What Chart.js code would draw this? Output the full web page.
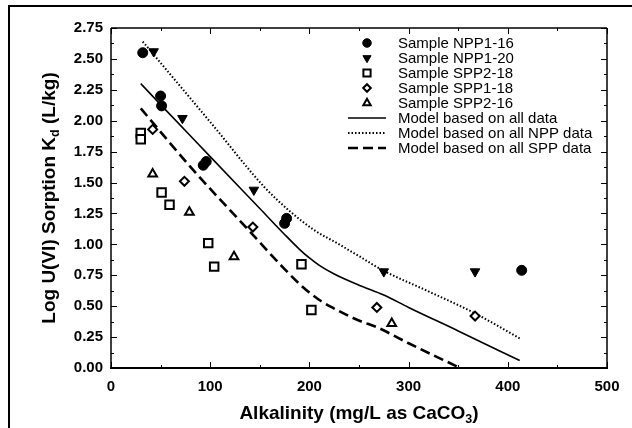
<!DOCTYPE html>
<html>
<head>
<meta charset="utf-8">
<script src="https://cdn.jsdelivr.net/npm/chart.js@4.4.0/dist/chart.umd.min.js"></script>
<style>
  html, body { margin: 0; padding: 0; background: #fff; }
  #wrap { width: 632px; height: 428px; }
</style>
</head>
<body>
<div id="wrap"><canvas id="kdChart" width="632" height="428"></canvas></div>
<script>
// axis ticks
const xTicks = [0, 100, 200, 300, 400, 500];
const yTicks = [0, 0.25, 0.5, 0.75, 1, 1.25, 1.5, 1.75, 2, 2.25, 2.5, 2.75];

// measured samples (alkalinity, log Kd)
const npp116X = [32, 50, 51, 93, 96, 175, 177, 414];
const npp116Y = [2.55, 2.20, 2.12, 1.64, 1.67, 1.17, 1.21, 0.79];
const npp120X = [43, 72, 144, 275, 367];
const npp120Y = [2.56, 2.02, 1.44, 0.78, 0.78];
const spp218X = [30, 30, 51, 59, 98, 104, 192, 202];
const spp218Y = [1.90, 1.85, 1.42, 1.32, 1.01, 0.82, 0.84, 0.47];
const spp118X = [42, 74, 143, 268, 367];
const spp118Y = [1.93, 1.51, 1.14, 0.49, 0.42];
const spp216X = [42, 79, 124, 283];
const spp216Y = [1.57, 1.26, 0.90, 0.36];

// model curves
const modelAllX = [30, 50, 100, 150, 175, 190, 200, 210, 225, 250, 275, 300, 350, 412];
const modelAllY = [2.30, 2.13, 1.71, 1.29, 1.08, 0.96, 0.89, 0.83, 0.76, 0.67, 0.59, 0.49, 0.30, 0.06];
const modelNppX = [32, 100, 155, 180, 204, 230, 251, 274, 320, 365, 412];
const modelNppY = [2.64, 1.99, 1.46, 1.27, 1.12, 1.00, 0.90, 0.79, 0.62, 0.45, 0.24];
const modelSppX = [30, 83, 137, 175, 190, 200, 212, 224, 240, 251, 268, 300, 352];
const modelSppY = [2.10, 1.60, 1.13, 0.80, 0.68, 0.61, 0.54, 0.485, 0.42, 0.38, 0.33, 0.20, 0.00];

function pts(xs, ys) {
  return xs.map((x, i) => ({ x: x, y: ys[i] }));
}

const FONT = "'Liberation Sans', Arial, sans-serif";

const datasets = [
  { label: 'Sample NPP1-16', data: pts(npp116X, npp116Y), pointStyle: 'circle', pointRadius: 5,
    backgroundColor: '#000', borderColor: '#000', borderWidth: 1 },
  { label: 'Sample NPP1-20', data: pts(npp120X, npp120Y), pointStyle: 'triangle', pointRotation: 180, pointRadius: 5.5,
    backgroundColor: '#000', borderColor: '#000', borderWidth: 1 },
  { label: 'Sample SPP2-18', data: pts(spp218X, spp218Y), pointStyle: 'rect', pointRadius: 6,
    backgroundColor: '#fff', borderColor: '#000', borderWidth: 2 },
  { label: 'Sample SPP1-18', data: pts(spp118X, spp118Y), pointStyle: 'rectRot', pointRadius: 4.5,
    backgroundColor: '#fff', borderColor: '#000', borderWidth: 2 },
  { label: 'Sample SPP2-16', data: pts(spp216X, spp216Y), pointStyle: 'triangle', pointRadius: 5,
    backgroundColor: '#fff', borderColor: '#000', borderWidth: 2 },
  { label: 'Model based on all data', data: pts(modelAllX, modelAllY), showLine: true, pointRadius: 0,
    borderColor: '#000', borderWidth: 1.6, cubicInterpolationMode: 'monotone', fill: false },
  { label: 'Model based on all NPP data', data: pts(modelNppX, modelNppY), showLine: true, pointRadius: 0,
    borderColor: '#000', borderWidth: 2, borderDash: [1.5, 2], cubicInterpolationMode: 'monotone', fill: false },
  { label: 'Model based on all SPP data', data: pts(modelSppX, modelSppY), showLine: true, pointRadius: 0,
    borderColor: '#000', borderWidth: 2.6, borderDash: [10, 5], cubicInterpolationMode: 'monotone', fill: false }
];

// frame, inward ticks, titles and legend
const decor = {
  id: 'decor',
  beforeDraw(chart) {
    const c = chart.ctx;
    c.save();
    c.fillStyle = '#fff';
    c.fillRect(0, 0, chart.width, chart.height);
    c.strokeStyle = '#000';
    c.lineWidth = 2;
    c.beginPath();
    c.moveTo(9, 428);
    c.lineTo(9, 6);
    c.lineTo(632, 6);
    c.stroke();
    c.restore();
  },
  afterDraw(chart) {
    const c = chart.ctx;
    const a = chart.chartArea;
    const xs = chart.scales.x, ys = chart.scales.y;
    c.save();
    c.strokeStyle = '#000';
    // axes box
    c.lineWidth = 1.5;
    c.beginPath();
    c.moveTo(a.left, a.top); c.lineTo(a.right, a.top);
    c.moveTo(a.right, a.top); c.lineTo(a.right, a.bottom);
    c.moveTo(a.left, a.top); c.lineTo(a.left, a.bottom);
    c.stroke();
    c.lineWidth = 2.2;
    c.beginPath();
    c.moveTo(a.left - 1, a.bottom); c.lineTo(a.right + 1, a.bottom);
    c.stroke();
    // ticks
    c.lineWidth = 1;
    c.beginPath();
    for (let v = 0; v <= 500; v += 50) {
      const px = Math.round(xs.getPixelForValue(v)) + 0.5;
      const len = v % 100 === 0 ? 6 : 3;
      c.moveTo(px, a.bottom); c.lineTo(px, a.bottom - len);
      c.moveTo(px, a.top); c.lineTo(px, a.top + len);
    }
    for (let k = 0; k <= 22; k++) {
      const v = k * 0.125;
      const py = Math.round(ys.getPixelForValue(v)) + 0.5;
      const len = k % 2 === 0 ? 6 : 3;
      c.moveTo(a.left, py); c.lineTo(a.left + len, py);
      c.moveTo(a.right, py); c.lineTo(a.right - len, py);
    }
    c.stroke();

    // x title with subscript
    c.fillStyle = '#000';
    c.textBaseline = 'alphabetic';
    const big = 'bold 19px ' + FONT, sub = 'bold 12.5px ' + FONT;
    c.font = big;
    const t1 = 'Alkalinity (mg/L as CaCO', t2 = '3', t3 = ')';
    const w1 = c.measureText(t1).width, w3 = c.measureText(t3).width;
    c.font = sub;
    const w2 = c.measureText(t2).width;
    let sx = (a.left + a.right) / 2 - (w1 + w2 + w3) / 2;
    const by = 419;
    c.font = big; c.fillText(t1, sx, by);
    c.font = sub; c.fillText(t2, sx + w1, by + 4);
    c.font = big; c.fillText(t3, sx + w1 + w2, by);

    // y title with subscript
    c.save();
    c.translate(55, (a.top + a.bottom) / 2);
    c.rotate(-Math.PI / 2);
    const u1 = 'Log U(VI) Sorption K', u2 = 'd', u3 = ' (L/kg)';
    c.font = big;
    const v1 = c.measureText(u1).width, v3 = c.measureText(u3).width;
    c.font = sub;
    const v2 = c.measureText(u2).width;
    let ty = -(v1 + v2 + v3) / 2;
    c.font = big; c.fillText(u1, ty, 0);
    c.font = sub; c.fillText(u2, ty + v1, 4);
    c.font = big; c.fillText(u3, ty + v1 + v2, 0);
    c.restore();

    // legend
    const lx = 367, tx = 398;
    let ly = 43;
    const step = 15;
    c.font = '15px ' + FONT;
    c.textBaseline = 'middle';
    chart.data.datasets.forEach((ds) => {
      c.save();
      if (ds.showLine) {
        c.lineWidth = ds.borderWidth;
        c.setLineDash(ds.borderDash || []);
        c.beginPath();
        c.moveTo(348, ly); c.lineTo(386, ly);
        c.stroke();
      } else {
        c.fillStyle = ds.backgroundColor;
        c.strokeStyle = ds.borderColor;
        c.lineWidth = ds.borderWidth;
        Chart.helpers.drawPoint(c, {
          pointStyle: ds.pointStyle,
          radius: ds.pointRadius * 0.85,
          rotation: ds.pointRotation || 0,
          borderWidth: ds.borderWidth
        }, lx, ly);
      }
      c.restore();
      c.fillStyle = '#000';
      c.fillText(ds.label, tx, ly + 1);
      ly += step;
    });
    c.restore();
  }
};

const config = {
  type: 'scatter',
  data: { datasets },
  options: {
    responsive: false,
    animation: false,
    layout: { padding: { top: 28, right: 25, left: 0, bottom: 0 } },
    plugins: {
      legend: { display: false },
      tooltip: { enabled: false }
    },
    scales: {
      x: {
        type: 'linear', min: 0, max: 500,
        afterBuildTicks: (s) => { s.ticks = xTicks.map(v => ({ value: v })); },
        afterFit: (s) => { s.height = 60; },
        grid: { display: false, drawTicks: false },
        border: { display: false },
        ticks: { color: '#000', padding: 10, font: { family: FONT, size: 15, weight: 'bold' }, maxRotation: 0 }
      },
      y: {
        type: 'linear', min: 0, max: 2.75,
        afterBuildTicks: (s) => { s.ticks = yTicks.map(v => ({ value: v })); },
        afterFit: (s) => { s.width = 111; },
        grid: { display: false, drawTicks: false },
        border: { display: false },
        ticks: { color: '#000', padding: 8, font: { family: FONT, size: 15, weight: 'bold' },
          callback: (v) => Number(v).toFixed(2) }
      }
    }
  },
  plugins: [decor]
};

const kdChart = new Chart(document.getElementById('kdChart'), config);
</script>
</body>
</html>
